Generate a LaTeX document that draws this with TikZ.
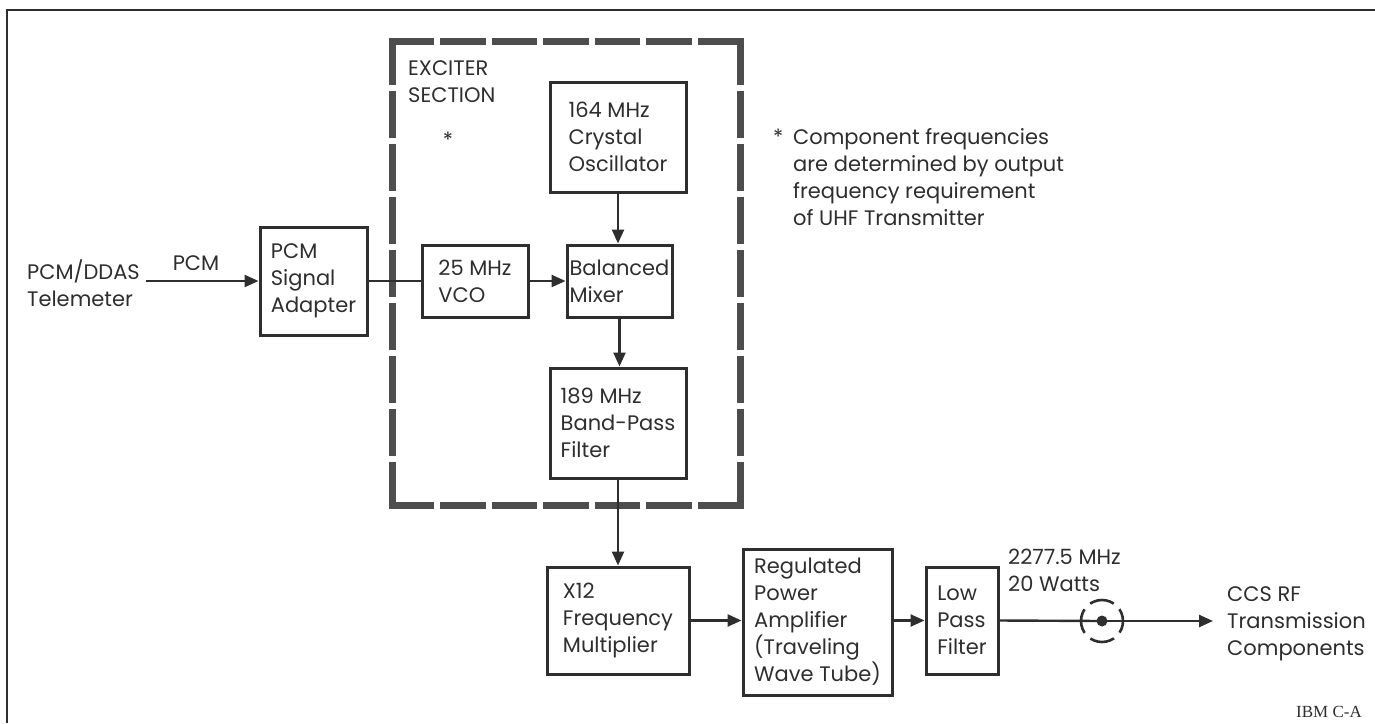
\documentclass[tikz,border=0pt]{standalone}
\usepackage{fontspec}
\setmainfont{Poppins}
\newfontfamily\ibmfont{Liberation Serif}
\usetikzlibrary{arrows.meta}
\definecolor{ink}{HTML}{2E2E2E}
\definecolor{dashgray}{HTML}{4D4D4D}
\begin{document}
\begin{tikzpicture}[x=1pt,y=-1pt,
  txt/.style={font=\fontsize{21}{27}\selectfont, text=ink, inner sep=0pt, align=left},
  blk/.style={draw=ink, line width=3pt, txt},
  conn/.style={draw=ink, line width=2.4pt},
  arr/.style={conn, -{Triangle[length=14pt,width=12pt]}},
  exc/.style={draw=dashgray, line width=7pt}
]
\useasboundingbox (0,0) rectangle (1375,723);
% outer frame
\draw[ink, line width=2.5pt] (7,723) -- (7,10) -- (1375,10);

% exciter section dashed border
\draw[exc, dash pattern=on 45.57pt off 6pt] (388.5,41) -- (743.5,41);
\draw[exc, dash pattern=on 45.57pt off 6pt] (388.5,505) -- (743.5,505);
\draw[exc, dash pattern=on 47pt off 6pt] (392,37.5) -- (392,508.5);
\draw[exc, dash pattern=on 47pt off 6pt] (740,37.5) -- (740,508.5);
\node[txt, anchor=west] (exlabel) at (408,81.5) {EXCITER\\SECTION};
\node[txt] (exstar) at (448,140) {*};

% blocks
\node[blk, minimum width=107pt, minimum height=108pt] (pcm) at (313.5,281) {PCM\\Signal\\Adapter};
\node[blk, minimum width=136pt, minimum height=110pt] (osc) at (618,137) {164 MHz\\Crystal\\Oscillator};
\node[blk, minimum width=106pt, minimum height=72pt] (vco) at (475,281) {25 MHz\\VCO};
\node[blk, minimum width=105pt, minimum height=72pt] (mix) at (619.5,281) {Balanced\\Mixer};
\node[blk, minimum width=136pt, minimum height=110pt] (bpf) at (618,423) {189 MHz\\Band-Pass\\Filter};
\node[blk, minimum width=142pt, minimum height=107pt] (x12) at (618,620.5) {X12\\Frequency\\Multiplier};
\node[blk, minimum width=149pt, minimum height=146pt] (amp) at (817.5,622) {Regulated\\Power\\Amplifier\\(Traveling\\Wave Tube)};
\node[blk, minimum width=72pt, minimum height=107pt] (lpf) at (962,620.5) {Low\\Pass\\Filter};

% texts
\node[txt, anchor=west] (tel) at (27,283.5) {PCM/DDAS\\Telemeter};
\node[txt] (pcmlbl) at (196,263) {PCM};
\node[txt, anchor=west] (note) at (793,177) {\llap{*\hspace{10pt}}Component frequencies\\are determined by output\\frequency requirement\\of UHF Transmitter};
\node[txt, anchor=west] (pwr) at (1008,570) {2277.5 MHz\\20 Watts};
\node[txt, anchor=west, inner xsep=14pt] (ccs) at (1213,623.5) {CCS RF\\Transmission\\Components};
\node[font=\ibmfont\fontsize{17}{20}\selectfont, text=ink, inner sep=0pt, anchor=east] (ibm) at (1362,712) {IBM C-A};

% coax connector
\node[circle, draw=ink, line width=2.6pt, dash pattern=on 25pt off 8pt, dash phase=12.5pt, minimum size=42pt, inner sep=0pt] (coax) at (1102,621) {};
\node[circle, fill=ink, minimum size=11pt, inner sep=0pt] (pin) at (coax) {};

% connectors
\draw[arr] ([xshift=6pt]tel.east |- pcm.west) -- (pcm.west);
\draw[conn] (pcm.east) -- (vco.west);
\draw[arr] (vco.east) -- (mix.west);
\draw[arr] (osc.south) -- (osc.south |- mix.north);
\draw[arr] (mix.south) -- (mix.south |- bpf.north);
\draw[arr] (bpf.south) -- (bpf.south |- x12.north);
\draw[arr] (x12.east) -- (x12.east -| amp.west);
\draw[arr] (lpf.west -| amp.east) -- (lpf.west);
\draw[conn] (lpf.east) -- (pin.center);
\draw[arr] (pin.center) -- (pin.center -| ccs.west);
\end{tikzpicture}
\end{document}
